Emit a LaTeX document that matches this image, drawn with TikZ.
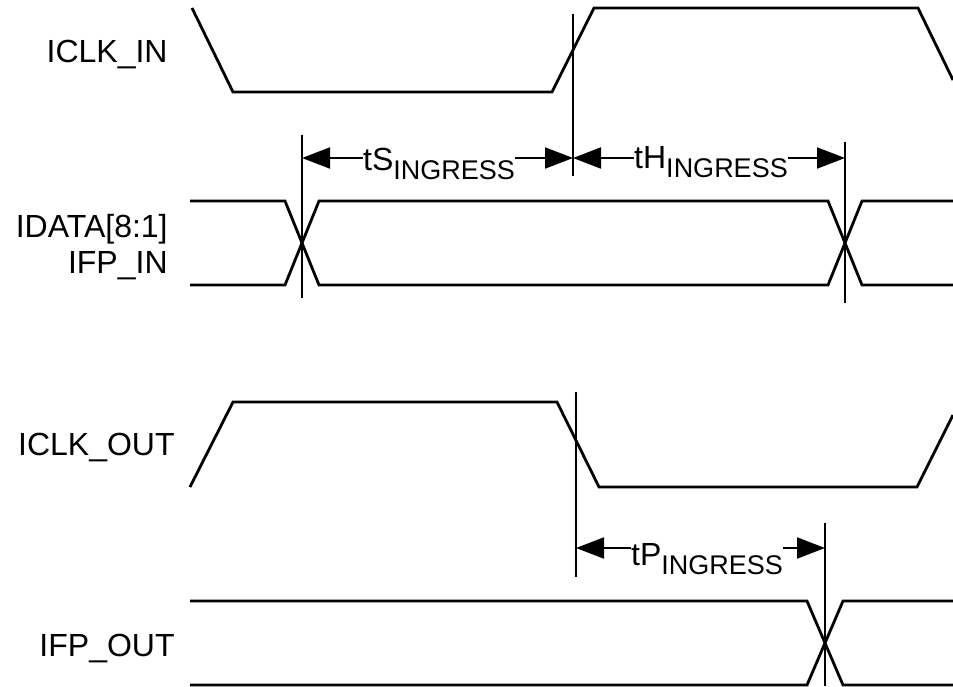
\documentclass[tikz,border=0pt]{standalone}
\usepackage{fontspec}
\setmainfont{Liberation Sans}
\usetikzlibrary{arrows.meta}

\newcommand{\tsub}[2]{#1\raisebox{-4.7pt}{\fontsize{13.5}{14}\selectfont #2}}

\begin{document}
\begin{tikzpicture}[x=0.5pt,y=-0.5pt,>={Triangle[length=14pt,width=10.5pt]},
		sig/.style={line width=1.4pt},
		guide/.style={line width=1pt},
		dimarr/.style={line width=1pt,->},
		lbl/.style={anchor=base east,inner sep=0pt,font=\fontsize{16}{18}\selectfont},
		tlbl/.style={anchor=base,inner sep=0pt,font=\fontsize{16}{18}\selectfont}]
		\useasboundingbox (0,0) rectangle (953,686);
		% signal names
		\node[lbl] (nIclkIn) at (168,62) {ICLK\_IN};
		\node[lbl] (nIdata) at (168,237) {IDATA[8:1]};
		\node[lbl] (nIfpIn) at (168,273) {IFP\_IN};
		\node[lbl] (nIclkOut) at (175,455) {ICLK\_OUT};
		\node[lbl] (nIfpOut) at (175,656) {IFP\_OUT};
		% waveforms
		\draw[sig] (192,8) -- (233,92) -- (552,92) -- (594,8) -- (918,8) -- (953,80);
		\draw[sig] (190,201) -- (285,201) -- (319,285) -- (828,285) -- (862,201) -- (953,201);
		\draw[sig] (190,285) -- (285,285) -- (319,201) -- (828,201) -- (862,285) -- (953,285);
		\draw[sig] (190,487) -- (233,402) -- (557,402) -- (599,487) -- (917,487) -- (953,415);
		\draw[sig] (190,601) -- (807,601) -- (843,685) -- (953,685);
		\draw[sig] (190,685) -- (807,685) -- (843,601) -- (953,601);
		% reference lines
		\draw[guide] (302,135) -- (302,298);
		\draw[guide] (573,14) -- (573,176);
		\draw[guide] (845,142) -- (845,303);
		\draw[guide] (576,392) -- (576,577);
		\draw[guide] (825,523) -- (825,686);
		% timing arrows
		\coordinate (gSetup) at (302,158);
		\coordinate (gClk) at (573,158);
		\coordinate (gHold) at (845,158);
		\coordinate (gOut) at (576,548);
		\coordinate (gProp) at (825,548);
		\node[tlbl] (tS) at (439,170) {\tsub{tS}{INGRESS}};
		\node[tlbl] (tH) at (711,168) {\tsub{tH}{INGRESS}};
		\node[tlbl] (tP) at (707,565) {\tsub{tP}{INGRESS}};
		\draw[dimarr] (tS.west |- gSetup) -- (gSetup);
		\draw[dimarr] (tS.east |- gClk) -- (gClk);
		\draw[dimarr] (tH.west |- gClk) -- (gClk);
		\draw[dimarr] (tH.east |- gHold) -- (gHold);
		\draw[dimarr] (tP.west |- gOut) -- (gOut);
		\draw[dimarr] (tP.east |- gProp) -- (gProp);
	\end{tikzpicture}
\end{document}
